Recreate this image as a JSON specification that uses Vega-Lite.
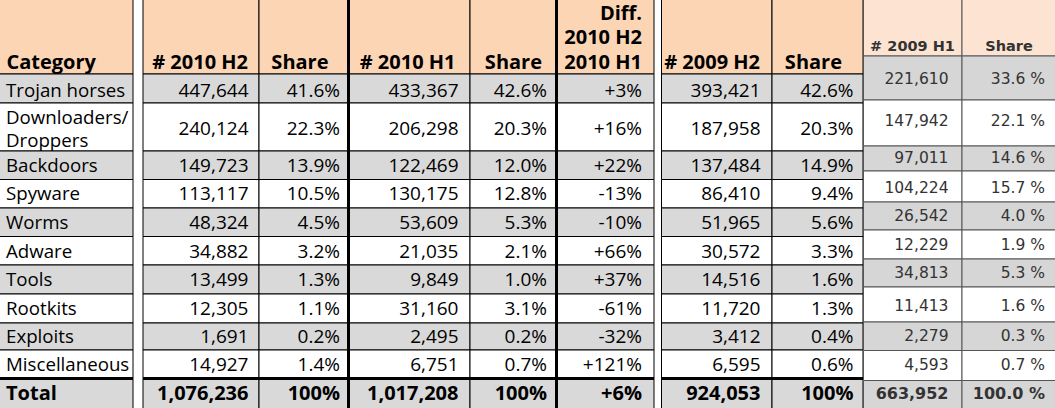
{
  "$schema": "https://vega.github.io/schema/vega-lite/v6.json",
  "padding": 0,
  "spacing": 0,
  "bounds": "flush",
  "background": "#ffffff",
  "config": {"view": {"stroke": null}, "axis": {"disable": true}, "legend": {"disable": true}},
  "datasets": {
    "main": [
      {"r":0,"c":0,"v":"Category"},{"r":0,"c":2,"v":"# 2010 H2"},{"r":0,"c":3,"v":"Share"},{"r":0,"c":4,"v":"# 2010 H1"},{"r":0,"c":5,"v":"Share"},{"r":0,"c":6,"v":"Diff.\n2010 H2\n2010 H1"},{"r":0,"c":8,"v":"# 2009 H2"},{"r":0,"c":9,"v":"Share"},
      {"r":1,"c":0,"v":"Trojan horses"},{"r":1,"c":2,"v":"447,644"},{"r":1,"c":3,"v":"41.6%"},{"r":1,"c":4,"v":"433,367"},{"r":1,"c":5,"v":"42.6%"},{"r":1,"c":6,"v":"+3%"},{"r":1,"c":8,"v":"393,421"},{"r":1,"c":9,"v":"42.6%"},
      {"r":2,"c":0,"v":"Downloaders/\nDroppers"},{"r":2,"c":2,"v":"240,124"},{"r":2,"c":3,"v":"22.3%"},{"r":2,"c":4,"v":"206,298"},{"r":2,"c":5,"v":"20.3%"},{"r":2,"c":6,"v":"+16%"},{"r":2,"c":8,"v":"187,958"},{"r":2,"c":9,"v":"20.3%"},
      {"r":3,"c":0,"v":"Backdoors"},{"r":3,"c":2,"v":"149,723"},{"r":3,"c":3,"v":"13.9%"},{"r":3,"c":4,"v":"122,469"},{"r":3,"c":5,"v":"12.0%"},{"r":3,"c":6,"v":"+22%"},{"r":3,"c":8,"v":"137,484"},{"r":3,"c":9,"v":"14.9%"},
      {"r":4,"c":0,"v":"Spyware"},{"r":4,"c":2,"v":"113,117"},{"r":4,"c":3,"v":"10.5%"},{"r":4,"c":4,"v":"130,175"},{"r":4,"c":5,"v":"12.8%"},{"r":4,"c":6,"v":"-13%"},{"r":4,"c":8,"v":"86,410"},{"r":4,"c":9,"v":"9.4%"},
      {"r":5,"c":0,"v":"Worms"},{"r":5,"c":2,"v":"48,324"},{"r":5,"c":3,"v":"4.5%"},{"r":5,"c":4,"v":"53,609"},{"r":5,"c":5,"v":"5.3%"},{"r":5,"c":6,"v":"-10%"},{"r":5,"c":8,"v":"51,965"},{"r":5,"c":9,"v":"5.6%"},
      {"r":6,"c":0,"v":"Adware"},{"r":6,"c":2,"v":"34,882"},{"r":6,"c":3,"v":"3.2%"},{"r":6,"c":4,"v":"21,035"},{"r":6,"c":5,"v":"2.1%"},{"r":6,"c":6,"v":"+66%"},{"r":6,"c":8,"v":"30,572"},{"r":6,"c":9,"v":"3.3%"},
      {"r":7,"c":0,"v":"Tools"},{"r":7,"c":2,"v":"13,499"},{"r":7,"c":3,"v":"1.3%"},{"r":7,"c":4,"v":"9,849"},{"r":7,"c":5,"v":"1.0%"},{"r":7,"c":6,"v":"+37%"},{"r":7,"c":8,"v":"14,516"},{"r":7,"c":9,"v":"1.6%"},
      {"r":8,"c":0,"v":"Rootkits"},{"r":8,"c":2,"v":"12,305"},{"r":8,"c":3,"v":"1.1%"},{"r":8,"c":4,"v":"31,160"},{"r":8,"c":5,"v":"3.1%"},{"r":8,"c":6,"v":"-61%"},{"r":8,"c":8,"v":"11,720"},{"r":8,"c":9,"v":"1.3%"},
      {"r":9,"c":0,"v":"Exploits"},{"r":9,"c":2,"v":"1,691"},{"r":9,"c":3,"v":"0.2%"},{"r":9,"c":4,"v":"2,495"},{"r":9,"c":5,"v":"0.2%"},{"r":9,"c":6,"v":"-32%"},{"r":9,"c":8,"v":"3,412"},{"r":9,"c":9,"v":"0.4%"},
      {"r":10,"c":0,"v":"Miscellaneous"},{"r":10,"c":2,"v":"14,927"},{"r":10,"c":3,"v":"1.4%"},{"r":10,"c":4,"v":"6,751"},{"r":10,"c":5,"v":"0.7%"},{"r":10,"c":6,"v":"+121%"},{"r":10,"c":8,"v":"6,595"},{"r":10,"c":9,"v":"0.6%"},
      {"r":11,"c":0,"v":"Total"},{"r":11,"c":2,"v":"1,076,236"},{"r":11,"c":3,"v":"100%"},{"r":11,"c":4,"v":"1,017,208"},{"r":11,"c":5,"v":"100%"},{"r":11,"c":6,"v":"+6%"},{"r":11,"c":8,"v":"924,053"},{"r":11,"c":9,"v":"100%"}
    ],
    "right": [
      {"r":0,"c":0,"v":"# 2009 H1"},{"r":0,"c":1,"v":"Share"},
      {"r":1,"c":0,"v":"221,610"},{"r":1,"c":1,"v":"33.6 %"},
      {"r":2,"c":0,"v":"147,942"},{"r":2,"c":1,"v":"22.1 %"},
      {"r":3,"c":0,"v":"97,011"},{"r":3,"c":1,"v":"14.6 %"},
      {"r":4,"c":0,"v":"104,224"},{"r":4,"c":1,"v":"15.7 %"},
      {"r":5,"c":0,"v":"26,542"},{"r":5,"c":1,"v":"4.0 %"},
      {"r":6,"c":0,"v":"12,229"},{"r":6,"c":1,"v":"1.9 %"},
      {"r":7,"c":0,"v":"34,813"},{"r":7,"c":1,"v":"5.3 %"},
      {"r":8,"c":0,"v":"11,413"},{"r":8,"c":1,"v":"1.6 %"},
      {"r":9,"c":0,"v":"2,279"},{"r":9,"c":1,"v":"0.3 %"},
      {"r":10,"c":0,"v":"4,593"},{"r":10,"c":1,"v":"0.7 %"},
      {"r":11,"c":0,"v":"663,952"},{"r":11,"c":1,"v":"100.0 %"}
    ]
  },
  "hconcat": [
    {
      "width": 863,
      "height": 408,
      "data": {"name": "main"},
      "resolve": {"scale": {"x": "independent", "y": "independent"}},
      "layer": [
        {
          "layer": [
            {
              "mark": {"type": "rect", "stroke": "#000000", "strokeWidth": 1, "binSpacing": 0, "clip": true},
              "encoding": {
                "x": {"field": "c", "type": "quantitative", "bin": {"binned": true, "step": 1}, "scale": {"domain": [0,1,2,3,4,5,6,7,8,9,10], "range": [-2,132.5,142.5,258.5,348.5,469.5,556.5,653.5,661,771.5,862.5], "nice": false, "zero": false}},
                "y": {"field": "r", "type": "quantitative", "bin": {"binned": true, "step": 1}, "scale": {"domain": [0,1,2,3,4,5,6,7,8,9,10,11,12], "range": [-2,73.5,102.5,150.5,179,207.5,236,264.5,293.5,322.5,349.5,378.5,410], "nice": false, "zero": false}},
                "fill": {"condition": [{"test": "datum.r == 0", "value": "#FCD5B4"}, {"test": "datum.r % 2 == 1", "value": "#D9D9D9"}], "value": "#FFFFFF"}
              }
            },
            {
              "transform": [{"filter": "datum.r == 0 && (datum.c == 4 || datum.c == 6)"}],
              "mark": {"type": "rule", "stroke": "#000000", "strokeWidth": 3, "clip": true},
              "encoding": {
                "x": {"field": "c", "type": "quantitative"}
              }
            },
            {
              "transform": [{"filter": "datum.r == 11"}],
              "mark": {"type": "rect", "fill": "#000000", "stroke": "#000000", "strokeWidth": 3, "binSpacing": 0, "clip": true},
              "encoding": {
                "x": {"field": "c", "type": "quantitative", "bin": {"binned": true, "step": 1}},
                "y": {"field": "r", "type": "quantitative"},
                "y2": {"field": "r"}
              }
            }
          ]
        },
        {
          "transform": [{"filter": "datum.r == 0"}],
          "encoding": {
            "x": {"field": "c", "type": "quantitative", "scale": {"domain": [0,2,3,4,5,6,8,9], "range": [6.5,248,328.5,455.5,542,642,760,842], "nice": false, "zero": false}},
            "y": {"field": "r", "type": "quantitative", "scale": {"domain": [0,1], "range": [68.5,100], "nice": false, "zero": false}},
            "text": {"field": "v", "type": "nominal"}
          },
          "layer": [
            {
              "transform": [{"filter": "datum.c == 0"}],
              "mark": {"type": "text", "align": "left", "baseline": "alphabetic", "font": "Open Sans", "fontSize": 20, "fontWeight": "bold", "color": "#000000"}
            },
            {
              "transform": [{"filter": "datum.c > 0 && indexof(datum.v, '\\n') < 0"}],
              "mark": {"type": "text", "align": "right", "baseline": "alphabetic", "font": "Open Sans", "fontSize": 20, "fontWeight": "bold", "color": "#000000"}
            },
            {
              "transform": [{"filter": "datum.c > 0 && indexof(datum.v, '\\n') >= 0"}],
              "mark": {"type": "text", "align": "right", "baseline": "alphabetic", "lineBreak": "\n", "lineHeight": 24.5, "dy": -49, "font": "Open Sans", "fontSize": 20, "fontWeight": "bold", "color": "#000000"}
            }
          ]
        },
        {
          "transform": [{"filter": "datum.r > 0"}],
          "encoding": {
            "x": {"field": "c", "type": "quantitative", "scale": {"domain": [0,2,3,4,5,6,8,9], "range": [6,248.5,340,458.5,547,642,760.5,853.5], "nice": false, "zero": false}},
            "y": {"field": "r", "type": "quantitative", "scale": {"domain": [1,2,3,4,5,6,7,8,9,10,11], "range": [90.5,128.5,165.5,193.5,222.5,251.5,279.5,308.5,337,364.5,394], "nice": false, "zero": false}},
            "text": {"field": "v", "type": "nominal"}
          },
          "layer": [
            {
              "transform": [{"filter": "datum.r <= 10 && datum.c == 0 && indexof(datum.v, '\\n') < 0"}],
              "mark": {"type": "text", "align": "left", "baseline": "middle", "font": "Open Sans", "fontSize": 18.7, "color": "#000000"}
            },
            {
              "transform": [{"filter": "datum.r <= 10 && datum.c == 0 && indexof(datum.v, '\\n') >= 0"}],
              "mark": {"type": "text", "align": "left", "baseline": "middle", "lineBreak": "\n", "lineHeight": 23, "dy": -11, "font": "Open Sans", "fontSize": 18.7, "color": "#000000"}
            },
            {
              "transform": [{"filter": "datum.r <= 10 && datum.c > 0"}],
              "mark": {"type": "text", "align": "right", "baseline": "middle", "font": "Open Sans", "fontSize": 19, "color": "#000000"}
            },
            {
              "transform": [{"filter": "datum.r == 11 && datum.c == 0"}],
              "mark": {"type": "text", "align": "left", "baseline": "middle", "font": "Open Sans", "fontSize": 20, "fontWeight": "bold", "color": "#000000"}
            },
            {
              "transform": [{"filter": "datum.r == 11 && datum.c > 0"}],
              "mark": {"type": "text", "align": "right", "baseline": "middle", "font": "Open Sans", "fontSize": 20, "fontWeight": "bold", "color": "#000000"}
            }
          ]
        }
      ]
    },
    {
      "width": 192,
      "height": 408,
      "data": {"name": "right"},
      "resolve": {"scale": {"x": "independent", "y": "independent"}},
      "layer": [
        {
          "mark": {"type": "rect", "stroke": "#555555", "strokeWidth": 1, "binSpacing": 0, "clip": true},
          "encoding": {
            "x": {"field": "c", "type": "quantitative", "bin": {"binned": true, "step": 1}, "scale": {"domain": [0,1,2], "range": [0,98.5,194], "nice": false, "zero": false}},
            "y": {"field": "r", "type": "quantitative", "bin": {"binned": true, "step": 1}, "scale": {"domain": [0,1,2,3,4,5,6,7,8,9,10,11,12], "range": [-2,55.5,99.5,145.5,170.5,201.5,229.5,258.5,286.5,321.5,350,380,410], "nice": false, "zero": false}},
            "fill": {"condition": [{"test": "datum.r == 0", "value": "#FDE4D2"}, {"test": "datum.r % 2 == 1", "value": "#D6D6D6"}], "value": "#FFFFFF"}
          }
        },
        {
          "encoding": {
            "x": {"field": "c", "type": "quantitative", "scale": {"domain": [0,1], "range": [85.5,182], "nice": false, "zero": false}},
            "y": {"field": "r", "type": "quantitative", "scale": {"domain": [0,1,2,3,4,5,6,7,8,9,10,11], "range": [50.5,79,121,158,188,216,245,273,306,336,365,394], "nice": false, "zero": false}},
            "text": {"field": "v", "type": "nominal"}
          },
          "layer": [
            {
              "transform": [{"filter": "datum.r == 0"}],
              "mark": {"type": "text", "align": "center", "baseline": "alphabetic", "dx": -36, "font": "DejaVu Sans", "fontSize": 14.5, "fontWeight": "bold", "color": "#333333"}
            },
            {
              "transform": [{"filter": "datum.r >= 1 && datum.r <= 10"}],
              "mark": {"type": "text", "align": "right", "baseline": "middle", "font": "DejaVu Sans", "fontSize": 15.5, "color": "#333333"}
            },
            {
              "transform": [{"filter": "datum.r == 11"}],
              "mark": {"type": "text", "align": "right", "baseline": "middle", "font": "DejaVu Sans", "fontSize": 16, "fontWeight": "bold", "color": "#333333"}
            }
          ]
        }
      ]
    }
  ]
}
